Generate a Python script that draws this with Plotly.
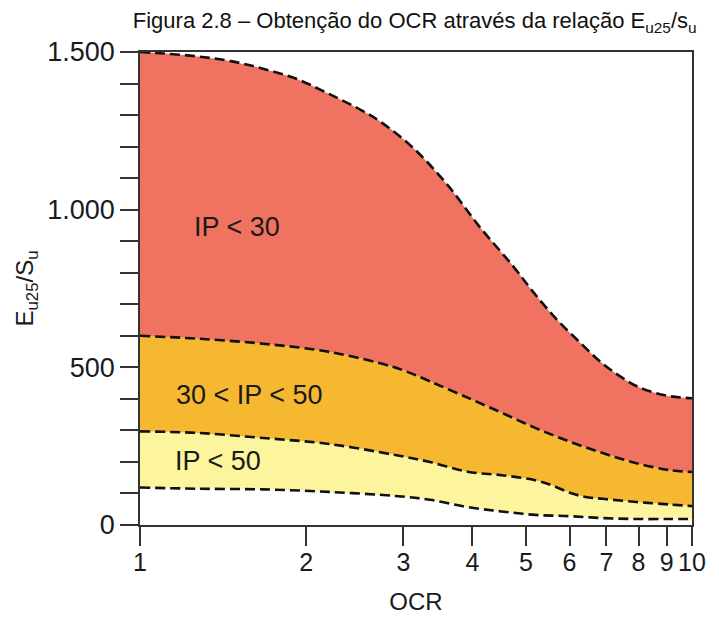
import plotly.graph_objects as go

# OCR values and E_u25/s_u boundaries
x_ip30 = [1, 1.11, 1.27, 1.46, 1.67, 1.92, 2.2, 2.52, 2.72, 3.12, 3.6, 4.13, 4.74, 5.15, 5.7, 6.3, 6.8, 7.4, 8.06, 9.0, 10]
y_ip30 = [1500, 1495, 1486, 1471, 1447, 1415, 1367, 1315, 1280, 1197, 1080, 944, 821, 740, 650, 575, 520, 472, 435, 410, 402]

x_ip30_50 = [1, 1.27, 1.67, 2.2, 2.89, 3.31, 3.41, 3.92, 4.52, 5.2, 5.99, 6.89, 7.93, 9.12, 10]
y_ip30_50 = [600, 591, 575, 549, 500, 460, 450, 404, 356, 308, 265, 228, 196, 174, 168]

x_ip50 = [1, 1.27, 1.67, 2.2, 2.9, 3.35, 3.92, 4.52, 5.2, 5.57, 5.99, 6.41, 6.89, 7.93, 9.12, 10]
y_ip50 = [297, 292, 276, 257, 222, 200, 169, 158, 142, 126, 103, 89, 83, 73, 65, 60]

x_low = [1, 1.27, 1.67, 2.2, 2.9, 3.35, 3.92, 4.52, 5.2, 5.99, 6.89, 7.93, 9.12, 10]
y_low = [119, 115, 113, 105, 92, 80, 57, 43, 32, 28, 22, 19, 19, 19]

x_tick_vals = [1, 2, 3, 4, 5, 6, 7, 8, 9, 10]
x_tick_text = ["1", "2", "3", "4", "5", "6", "7", "8", "9", "10"]
y_tick_vals = [0, 500, 1000, 1500]
y_tick_text = ["0", "500", "1.000", "1.500"]

region_labels = ["IP < 30", "30 < IP < 50", "IP < 50"]

RED = "#EF7360"
ORANGE = "#F5B830"
YELLOW = "#FDF49E"
line_style = dict(color="#111111", width=2.6, dash="10px,5px")

fig = go.Figure()
fig.add_trace(go.Scatter(x=x_low, y=y_low, mode="lines", line=line_style,
                         line_shape="spline", hoverinfo="skip", showlegend=False))
fig.add_trace(go.Scatter(x=x_ip50, y=y_ip50, mode="lines", line=line_style,
                         line_shape="spline", fill="tonexty", fillcolor=YELLOW,
                         hoverinfo="skip", showlegend=False))
fig.add_trace(go.Scatter(x=x_ip30_50, y=y_ip30_50, mode="lines", line=line_style,
                         line_shape="spline", fill="tonexty", fillcolor=ORANGE,
                         hoverinfo="skip", showlegend=False))
fig.add_trace(go.Scatter(x=x_ip30, y=y_ip30, mode="lines", line=line_style,
                         line_shape="spline", fill="tonexty", fillcolor=RED,
                         hoverinfo="skip", showlegend=False))

FONT = "Liberation Sans, Arial, sans-serif"
label_pos = [(0.176, 0.630), (0.199, 0.274), (0.142, 0.135)]
for txt, (px, py) in zip(region_labels, label_pos):
    fig.add_annotation(text=txt, xref="paper", yref="paper", x=px, y=py,
                       showarrow=False, xanchor="center", yanchor="middle",
                       font=dict(family=FONT, size=27, color="#1a1a1a"))

fig.update_layout(
    width=711, height=615,
    margin=dict(l=132, r=27, t=44, b=96),
    paper_bgcolor="white", plot_bgcolor="white",
    font=dict(family=FONT, color="#1a1a1a"),
    title=dict(text="Figura 2.8 – Obtenção do OCR através da relação E<sub>u25</sub>/s<sub>u</sub>",
               x=0.572, xanchor="center", y=0.980, yanchor="middle",
               font=dict(family=FONT, size=22, color="#111111")),
)
fig.update_xaxes(type="log", range=[0, 1], tickvals=x_tick_vals, ticktext=x_tick_text,
                 ticks="outside", ticklen=19, tickwidth=1.5, tickcolor="#333",
                 ticklabelstandoff=-5,
                 showline=True, linecolor="#333", linewidth=1.5, mirror=True,
                 showgrid=False, zeroline=False,
                 tickfont=dict(size=25, family=FONT),
                 title=dict(text="OCR", font=dict(size=24, family=FONT), standoff=18))
fig.update_yaxes(range=[0, 1500], tickvals=y_tick_vals, ticktext=y_tick_text,
                 ticks="outside", ticklen=18, tickwidth=1.5, tickcolor="#333",
                 minor=dict(dtick=100, ticks="outside", ticklen=18, tickwidth=1.5, tickcolor="#333", showgrid=False),
                 showline=True, linecolor="#333", linewidth=1.5, mirror=True,
                 showgrid=False, zeroline=False,
                 tickfont=dict(size=27, family=FONT),
                 title=dict(text="E<sub>u25</sub>/S<sub>u</sub>", font=dict(size=24, family=FONT), standoff=7))

fig.write_html("out.html")
